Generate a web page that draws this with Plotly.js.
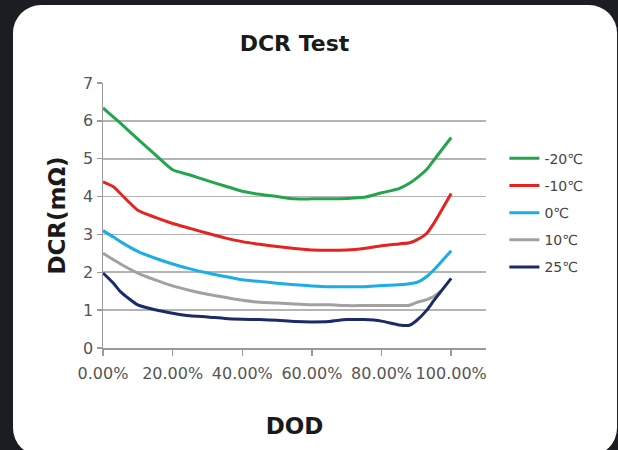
<!DOCTYPE html>
<html>
<head>
<meta charset="utf-8">
<script src="https://cdn.plot.ly/plotly-3.0.1.min.js"></script>
<style>
  html, body { margin: 0; padding: 0; background: #1c1d22; width: 618px; height: 450px; overflow: hidden; }
  #panel { position: absolute; left: 13px; top: 5px; width: 604px; height: 451px; background: #ffffff; border-radius: 28px; }
  #chart { position: absolute; left: 0; top: 0; width: 618px; height: 450px; }
</style>
</head>
<body>
<div id="panel"></div>
<div id="chart"></div>
<script>
// Depth of discharge (fraction)
const dod = [0, 0.03, 0.05, 0.10, 0.15, 0.20, 0.25, 0.30, 0.35, 0.40, 0.45, 0.50, 0.55, 0.60, 0.65, 0.70, 0.75, 0.80, 0.85, 0.88, 0.90, 0.93, 0.95, 1.00];
const dodGray = [0, 0.03, 0.05, 0.10, 0.15, 0.20, 0.25, 0.30, 0.35, 0.40, 0.45, 0.50, 0.55, 0.60, 0.65, 0.70, 0.75, 0.80, 0.85, 0.88, 0.90, 0.93, 0.95, 0.97];

const seriesNames = ["-20℃", "-10℃", "0℃", "10℃", "25℃"];

const dcrM20 = [6.34, 6.10, 5.94, 5.52, 5.11, 4.71, 4.57, 4.42, 4.28, 4.14, 4.06, 4.00, 3.94, 3.94, 3.94, 3.95, 3.98, 4.10, 4.21, 4.35, 4.48, 4.72, 4.96, 5.56];
const dcrM10 = [4.39, 4.26, 4.08, 3.64, 3.45, 3.29, 3.16, 3.03, 2.91, 2.81, 2.74, 2.68, 2.63, 2.59, 2.58, 2.59, 2.63, 2.70, 2.75, 2.78, 2.85, 3.03, 3.29, 4.08];
const dcr0   = [3.10, 2.93, 2.81, 2.55, 2.37, 2.22, 2.09, 1.98, 1.89, 1.80, 1.76, 1.71, 1.67, 1.64, 1.62, 1.62, 1.62, 1.65, 1.67, 1.70, 1.73, 1.89, 2.06, 2.57];
const dcr10  = [2.50, 2.33, 2.22, 1.98, 1.80, 1.64, 1.52, 1.42, 1.34, 1.26, 1.21, 1.19, 1.16, 1.14, 1.14, 1.12, 1.12, 1.12, 1.12, 1.13, 1.20, 1.28, 1.36, 1.50];
const dcr25  = [1.98, 1.71, 1.49, 1.14, 1.01, 0.92, 0.85, 0.82, 0.78, 0.76, 0.75, 0.73, 0.70, 0.69, 0.70, 0.75, 0.75, 0.71, 0.61, 0.60, 0.72, 1.00, 1.25, 1.84];

const xTickVals = [0, 0.2, 0.4, 0.6, 0.8, 1.0];
const yTickVals = [0, 1, 2, 3, 4, 5, 6, 7];

const colors = ["#22a54d", "#e5231f", "#1badE6", "#a3a0a0", "#1b2a69"];
const xs = [dod, dod, dod, dodGray, dod];
const ys = [dcrM20, dcrM10, dcr0, dcr10, dcr25];

const traces = ys.map((y, i) => ({
  type: "scatter",
  mode: "lines",
  x: xs[i],
  y: y,
  name: seriesNames[i],
  legendgroup: "g" + i,
  line: { color: colors[i], width: 3, shape: "spline", smoothing: 0.6 }
}));

const font = "DejaVu Sans, sans-serif";

const layout = {
  width: 618,
  height: 450,
  paper_bgcolor: "rgba(0,0,0,0)",
  plot_bgcolor: "rgba(0,0,0,0)",
  margin: { l: 103, r: 132, t: 83, b: 102 },
  title: {
    text: "DCR Test",
    font: { family: font, size: 22, color: "#1a1a1a", weight: 700 },
    xref: "paper", x: 0.5, xanchor: "center",
    yref: "container", y: 1 - 43 / 450, yanchor: "middle"
  },
  xaxis: {
    range: [0, 1.1],
    tickvals: xTickVals,
    tickformat: ".2%",
    showgrid: false,
    zeroline: false,
    showline: true,
    linecolor: "#9a9a9a",
    linewidth: 1.5,
    ticks: "outside",
    ticklen: 6,
    tickcolor: "#9a9a9a",
    tickwidth: 1.5,
    ticklabelstandoff: 4,
    tickfont: { family: font, size: 16, color: "#555555" },
    title: { text: "DOD", font: { family: font, size: 23, color: "#1a1a1a", weight: 700 }, standoff: 36 },
    automargin: false
  },
  yaxis: {
    range: [0, 7],
    tickvals: yTickVals,
    showgrid: true,
    gridcolor: "#b4b4b4",
    gridwidth: 1.8,
    zeroline: false,
    showline: true,
    linecolor: "#9a9a9a",
    linewidth: 1.5,
    ticks: "outside",
    ticklen: 5,
    tickcolor: "#9a9a9a",
    tickwidth: 1.5,
    tickfont: { family: font, size: 16, color: "#555555" },
    title: { text: "DCR(mΩ)", font: { family: font, size: 23, color: "#1a1a1a", weight: 700 }, standoff: 11 },
    automargin: false
  },
  showlegend: true,
  legend: {
    x: 1.048, xanchor: "left",
    y: 0.775, yanchor: "top",
    font: { family: font, size: 14, color: "#444444" },
    tracegroupgap: 6,
    bgcolor: "rgba(0,0,0,0)"
  }
};

Plotly.newPlot("chart", traces, layout, { displayModeBar: false, staticPlot: true });
</script>
</body>
</html>
